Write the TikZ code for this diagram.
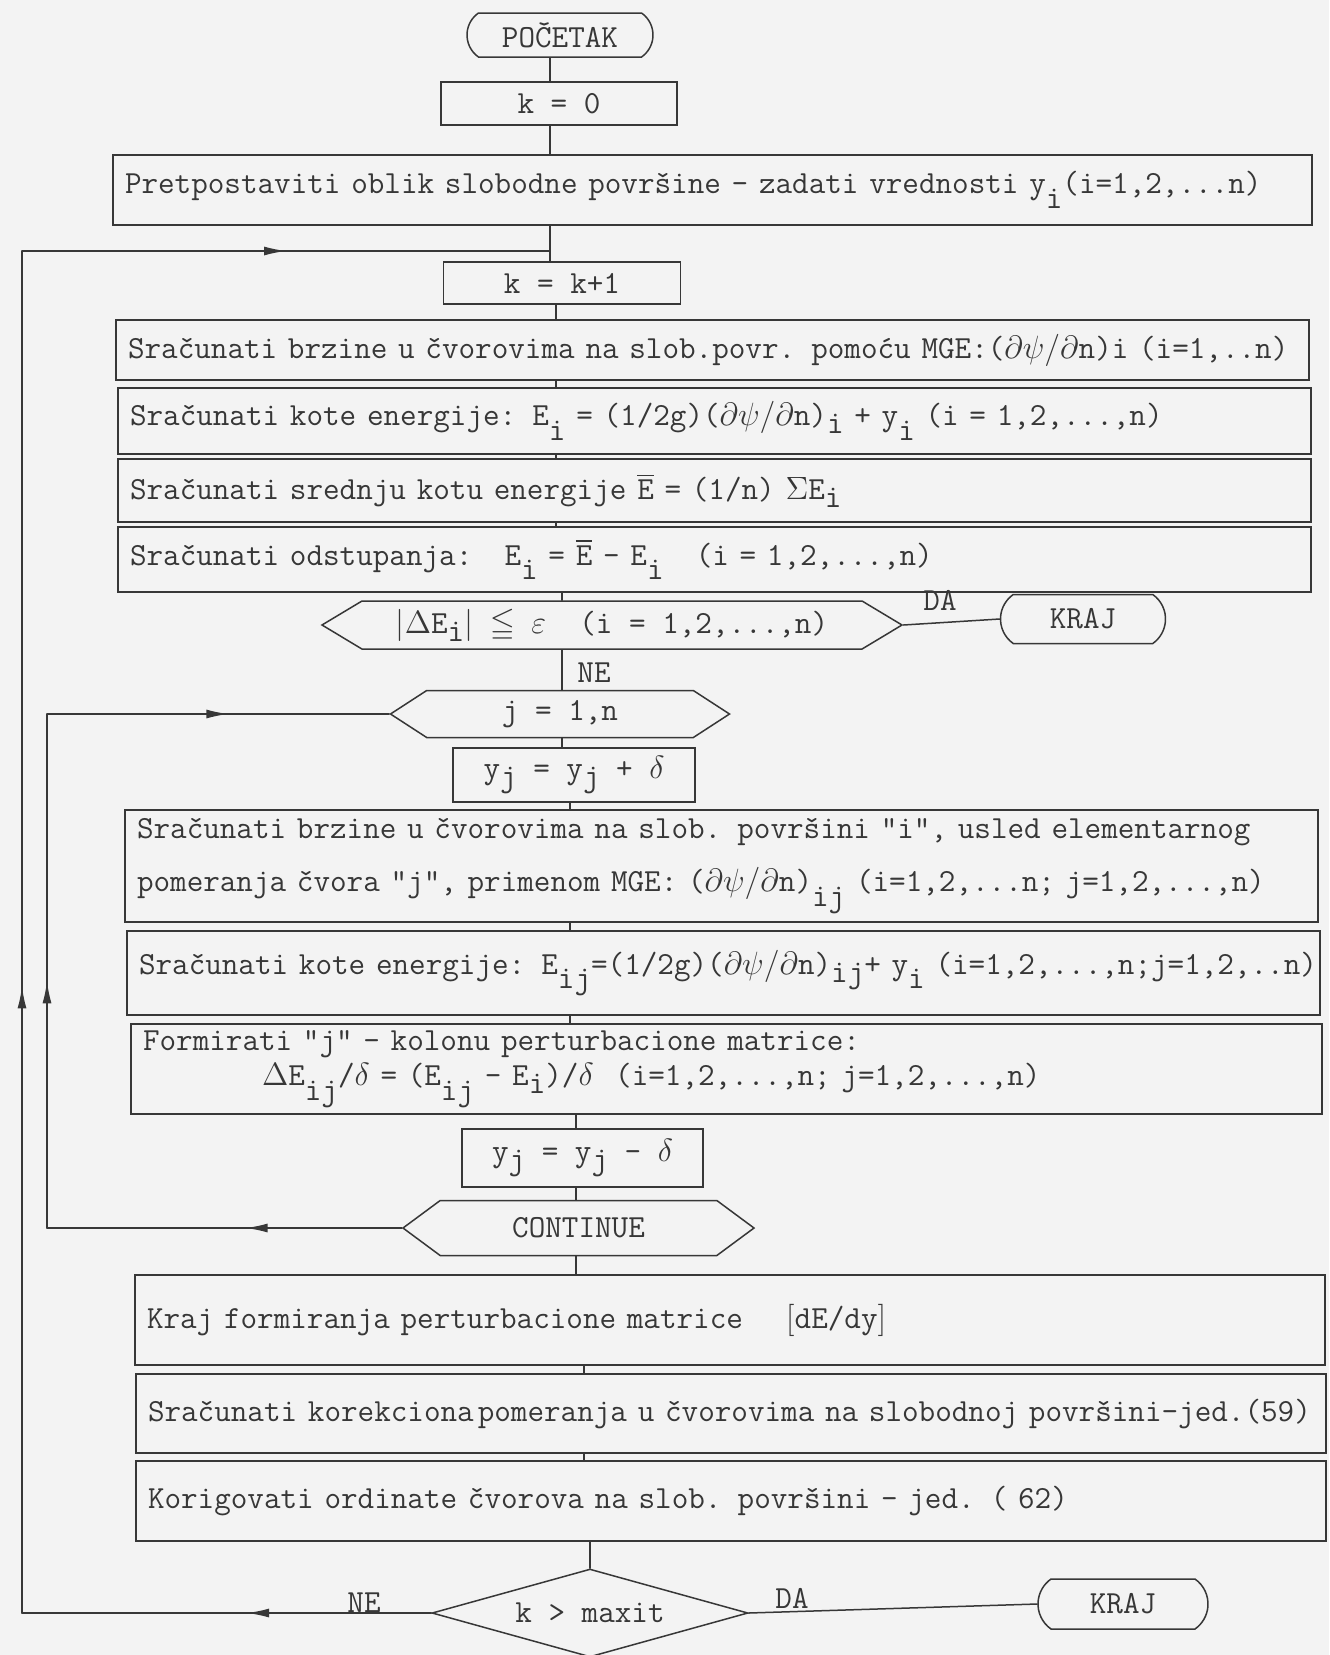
\documentclass[tikz,border=0pt]{standalone}
\usepackage{fix-cm}
\usepackage{amssymb}
\usetikzlibrary{shapes.misc,shapes.symbols,shapes.geometric,arrows.meta,decorations.markings}
\definecolor{paper}{RGB}{243,243,243}
\definecolor{ink}{RGB}{55,55,55}
\newcommand\lo[1]{\raisebox{-0.45em}{#1}}
\newcommand\lh[1]{\raisebox{-0.25em}{#1}}
\newcommand\Ebar{\ensuremath{\overline{\mbox{E}}}}
\begin{document}
\begin{tikzpicture}[x=0.5pt,y=-0.5pt,
  every node/.style={font=\fontsize{16.1pt}{19pt}\selectfont\ttfamily, text=ink},
  line width=0.75pt, line cap=round,
  box/.style={draw=ink, rectangle, inner xsep=6pt, inner ysep=0pt},
  lbox/.style n args={3}{box, minimum width=#1pt, text width=#2pt, minimum height=#3pt, align=left},
  cbox/.style 2 args={box, minimum width=#1pt, minimum height=#2pt, align=center},
  term/.style 2 args={draw=ink, rounded rectangle, rounded rectangle arc length=110, minimum width=#1pt, minimum height=#2pt, inner sep=0pt},
  hexa/.style n args={3}{draw=ink, signal, signal to=west and east, signal pointer angle=#3, minimum width=#1pt, minimum height=#2pt, inner sep=0pt},
  dec/.style 2 args={draw=ink, diamond, aspect=3.6, minimum width=#1pt, minimum height=#2pt, inner sep=0pt},
  lab/.style={inner sep=0pt},
  arr/.style={postaction={decorate}, decoration={markings, mark=at position #1 with {\arrow{Latex[length=11pt,width=4.5pt]}}}}
]
\clip (0,0) rectangle (1329,1655);
\fill[paper] (0,0) rectangle (1329,1655);

% spine coordinates
\coordinate (s1) at (550,0);
\coordinate (s2) at (556,0);
\coordinate (s3) at (562,0);
\coordinate (s4) at (570,0);
\coordinate (s5) at (576,0);
\coordinate (s6) at (584,0);
\coordinate (oL) at (22,0);
\coordinate (iL) at (47,0);
\coordinate (jn1) at (550,251);

% nodes
\node[term={93}{22}] (start) at (560,35) {POČETAK};
\node[cbox={118}{21.5}] (k0) at (559,103.5) {k = 0};
\node[lbox={599.5}{587.5}{35}] (pret) at (712.5,190)
  {\mbox{Pretpostaviti oblik slobodne površine - zadati vrednosti y\lo{i}(i=1,2,...n)}};
\node[cbox={118.5}{21}] (kk) at (562,283) {k = k+1};
\node[lbox={596.5}{584.5}{30}] (A) at (712.5,350)
  {\mbox{Sračunati brzine u čvorovima na slob.povr. pomoću MGE:($\partial\psi/\partial$n)i (i=1,..n)}};
\node[lbox={596.5}{584.5}{33}] (B) at (714.5,421)
  {\mbox{Sračunati kote energije: E\lo{i} = (1/2g)($\partial\psi/\partial$n)\lh{i} + y\lo{i} (i = 1,2,...,n)}};
\node[lbox={596.5}{584.5}{31.5}] (C) at (714.5,490.5)
  {\mbox{Sračunati srednju kotu energije \Ebar{} = (1/n) $\Sigma$E\lh{i}}};
\node[lbox={596.5}{584.5}{32.5}] (D) at (714.5,559.5)
  {\mbox{Sračunati odstupanja:\ \ \ E\lo{i} = \Ebar{} - E\lo{i}\ \ \ (i = 1,2,...,n)}};
\node[hexa={290}{24}{62}] (hex1) at (612,625)
  {$\Bigl|\Delta$E\lh{i}$\Bigr|$ $\leqq$ $\varepsilon$\ \ (i = 1,2,...,n)};
\node[term={82.5}{24.5}] (krj1) at (1083,619) {KRAJ};
\node[lab] (da1) at (940,600) {DA};
\node[lab] (ne1) at (594,673) {NE};
\node[hexa={169.5}{23.5}{66}] (hex2) at (560,714) {j = 1,n};
\node[cbox={121}{27}] (ypd) at (574,775) {y\lh{j} = y\lh{j} + $\delta$};
\node[lbox={596.5}{584.5}{56}] (E) at (721.5,866)
  {\mbox{Sračunati brzine u čvorovima na slob. površini "i", usled elementarnog}\\[7.5pt]
   \mbox{pomeranja čvora "j", primenom MGE: ($\partial\psi/\partial$n)\lo{ij} (i=1,2,...n; j=1,2,...,n)}};
\node[lbox={596.5}{584.5}{42}] (F) at (723.5,973)
  {\mbox{Sračunati kote energije: E\lo{ij}=(1/2g)($\partial\psi/\partial$n)\lh{ij}+ y\lo{i} (i=1,2,...,n;j=1,2,..n)}};
\node[lbox={595.5}{583.5}{45}] (G) at (726.5,1069)
  {\mbox{Formirati "j" - kolonu perturbacione matrice:}\\[-1.5pt]
   \mbox{\hspace{59.5pt}$\Delta$E\lo{ij}/$\delta$ = (E\lo{ij} - E\lh{i})/$\delta$\ \ (i=1,2,...,n; j=1,2,...,n)}};
\node[cbox={120.5}{29}] (ymd) at (582.5,1158) {y\lh{j} = y\lh{j} - $\delta$};
\node[hexa={175.5}{27.5}{73}] (cont) at (578.5,1228) {CONTINUE};
\node[lbox={595}{583}{45}] (H) at (730,1320)
  {\mbox{Kraj formiranja perturbacione matrice\ \ \ \ $\bigl[$dE/dy$\bigr]$}};
\node[lbox={595}{583}{39.5}] (I) at (731,1413.5)
  {\mbox{Sračunati korekciona\hspace{2pt}pomeranja u čvorovima na slobodnoj površini-jed.(59)}};
\node[lbox={595}{583}{40}] (J) at (731,1501)
  {\mbox{Korigovati ordinate čvorova na slob. površini - jed. ( 62)}};
\node[dec={158}{44}] (dia) at (590,1613) {k > maxit};
\node[term={85}{25}] (krj2) at (1123,1604) {KRAJ};
\node[lab] (da2) at (792,1598) {DA};
\node[lab] (ne2) at (364,1603) {NE};

% main spine
\draw[ink] (start.south -| s1) -- (k0.north -| s1);
\draw[ink] (k0.south -| s1) -- (pret.north -| s1);
\draw[ink] (pret.south -| s1) -- (jn1) -- (kk.north -| s1);
\draw[ink] (kk.south -| s2) -- (A.north -| s2);
\draw[ink] (A.south -| s2) -- (B.north -| s2);
\draw[ink] (B.south -| s2) -- (C.north -| s2);
\draw[ink] (C.south -| s2) -- (D.north -| s2);
\draw[ink] (D.south -| s3) -- (hex1.north -| s3);
\draw[ink] (hex1.south -| s3) -- (hex2.north -| s3);
\draw[ink] (hex2.south -| s3) -- (ypd.north -| s3);
\draw[ink] (ypd.south -| s4) -- (E.north -| s4);
\draw[ink] (E.south -| s4) -- (F.north -| s4);
\draw[ink] (F.south -| s4) -- (G.north -| s4);
\draw[ink] (G.south -| s5) -- (ymd.north -| s5);
\draw[ink] (ymd.south -| s5) -- (cont.north -| s5);
\draw[ink] (cont.south -| s5) -- (H.north -| s5);
\draw[ink] (H.south -| s6) -- (I.north -| s6);
\draw[ink] (I.south -| s6) -- (J.north -| s6);
\draw[ink] (J.south -| dia.north) -- (dia.north);

% exits
\draw[ink] (hex1.east) -- (krj1.west);
\draw[ink] (dia.east) -- (krj2.west);

% outer loop
\draw[ink, arr=0.45] (dia.west) -- (dia.west -| oL);
\draw[ink, arr=0.46] (dia.west -| oL) -- (jn1 -| oL);
\draw[ink, arr=0.5] (jn1 -| oL) -- (jn1);

% inner loop
\draw[ink, arr=0.44] (cont.west) -- (cont.west -| iL);
\draw[ink, arr=0.48] (cont.west -| iL) -- (hex2.west -| iL);
\draw[ink, arr=0.53] (hex2.west -| iL) -- (hex2.west);
\end{tikzpicture}
\end{document}
